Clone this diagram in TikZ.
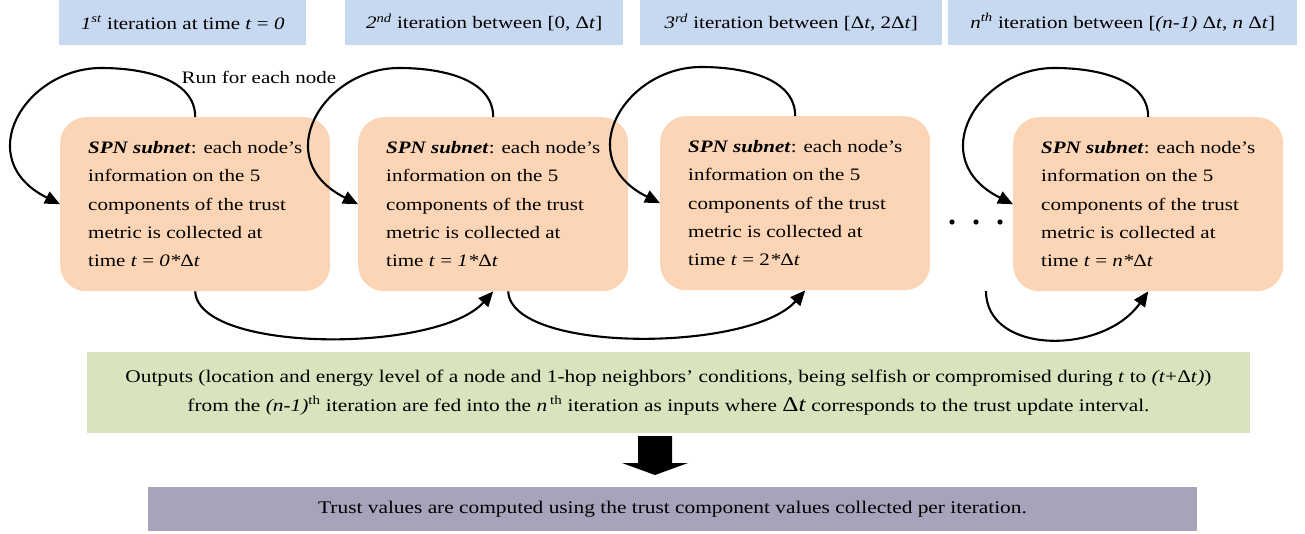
\documentclass[tikz,border=0pt]{standalone}
\usepackage{fontspec}
\setmainfont{Liberation Serif}[FakeStretch=1.2]
\usetikzlibrary{arrows.meta,calc}
\definecolor{hdrblue}{HTML}{C6D9F1}
\definecolor{boxorange}{HTML}{FBD5B5}
\definecolor{boxgreen}{HTML}{D7E4BD}
\definecolor{boxpurple}{HTML}{A9A2BB}
\newcommand{\Dt}{Δ\textit{t}}
\begin{document}
\begin{tikzpicture}[x=1pt,y=-1pt,
  basefont/.style={font=\fontsize{17.5}{28.3}\selectfont},
  hdr/.style={basefont, fill=hdrblue, minimum height=45pt, inner sep=0pt, anchor=north west},
  spn/.style={basefont, fill=boxorange, rounded corners=26pt, minimum width=270pt, minimum height=174pt, align=left, inner sep=0pt, anchor=north west},
  conn/.style={line width=2.1pt, -{Triangle[length=15pt,width=13pt]}}
]
\useasboundingbox (0,0) rectangle (1305,533);

% header boxes
\node[hdr, minimum width=247pt] (h1) at (59,0) {\textit{1}\textsuperscript{\textit{st}} iteration at time \textit{t} = \textit{0}};
\node[hdr, minimum width=278pt] (h2) at (345,0) {\textit{2}\textsuperscript{\textit{nd}} iteration between [0, \Dt]};
\node[hdr, minimum width=302pt] (h3) at (640,0) {\textit{3}\textsuperscript{\textit{rd}} iteration between [\Dt, 2\Dt]};
\node[hdr, minimum width=349pt] (h4) at (948,0) {\textit{n}\textsuperscript{\textit{th}} iteration between [\textit{(n-1)} \Dt, \textit{n} \Dt]};

% SPN boxes
\node[spn] (b1) at (60,117) {\textbf{\textit{SPN subnet}}: each node’s\\ information on the 5\\ components of the trust\\ metric is collected at\\ time \textit{t} = \textit{0*}\Dt};
\node[spn] (b2) at (358,117) {\textbf{\textit{SPN subnet}}: each node’s\\ information on the 5\\ components of the trust\\ metric is collected at\\ time \textit{t} = \textit{1*}\Dt};
\node[spn] (b3) at (660,116) {\textbf{\textit{SPN subnet}}: each node’s\\ information on the 5\\ components of the trust\\ metric is collected at\\ time \textit{t} = 2\textit{*}\Dt};
\node[spn] (b4) at (1013,117) {\textbf{\textit{SPN subnet}}: each node’s\\ information on the 5\\ components of the trust\\ metric is collected at\\ time \textit{t} = \textit{n*}\Dt};

\node[basefont, inner sep=0pt] (run) at (259,77) {Run for each node};

% self loops
\foreach \b in {b1,b2,b3,b4}{
  \draw[conn] (\b.north) .. controls +(0,-37) and +(45,0) .. ($(\b.north)+(-94,-49)$)
     .. controls +(-76,0) and +(-90,-45) .. (\b.west);
}

% dots
\foreach \x in {952,976,1000} \fill (\x,222) circle (2.6pt);

% bottom connectors
\draw[conn] (b1.south) .. controls +(3,62) and +(-55,62) .. (b2.south);
\draw[conn] ($(b2.south)+(15,0)$) .. controls +(3,62) and +(-55,62) .. ($(b3.south)+(10,0)$);
\coordinate (free) at (986,291);
\draw[conn] (free) .. controls +(0,64) and +(-45,64) .. (b4.south);

% outputs box
\node[fill=boxgreen, minimum width=1163pt, minimum height=81pt, align=center, inner sep=0pt, font=\fontsize{17.8}{28.5}\selectfont] (out) at (668.5,392.5)
 {Outputs (location and energy level of a node and 1-hop neighbors’ conditions, being selfish or compromised during \textit{t} to \textit{(t}+\Dt\textit{)})\\
  from the \textit{(n-1)}\textsuperscript{th} iteration are fed into the \textit{n}\,\textsuperscript{th} iteration as inputs where {\fontsize{21}{28}\selectfont \Dt} corresponds to the trust update interval.};

% block arrow
\fill (638,436) -- (672,436) -- (672,463) -- (688,463) -- (655,475) -- (622,463) -- (638,463) -- cycle;

% trust values box
\node[fill=boxpurple, minimum width=1049pt, minimum height=44pt, inner sep=0pt, font=\fontsize{17.8}{20}\selectfont] (trust) at (672.5,509) {Trust values are computed using the trust component values collected per iteration.};
\end{tikzpicture}
\end{document}
